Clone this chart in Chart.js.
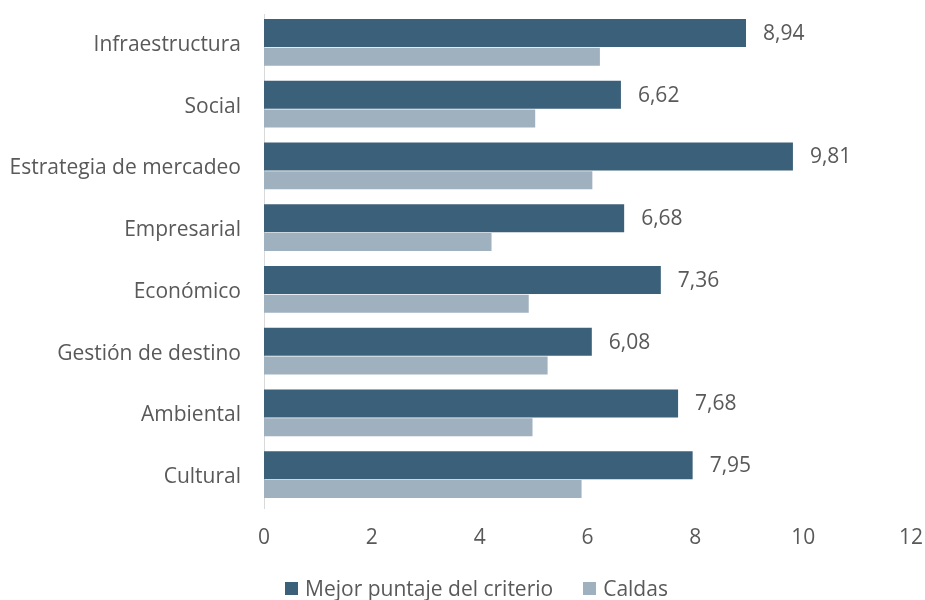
<!DOCTYPE html>
<html lang="es">
<head>
<meta charset="utf-8">
<title>Puntaje por criterio</title>
<script src="https://cdn.jsdelivr.net/npm/chart.js@4/dist/chart.umd.min.js"></script>
<style>
  html, body { margin: 0; padding: 0; background: #fff; }
  #wrap { position: relative; width: 925px; height: 600px; }
  #legend {
    position: absolute; left: 28px; right: 0; top: 575px;
    display: flex; justify-content: center; gap: 30px;
    font-family: "Open Sans", sans-serif; font-size: 21px; color: #595959;
    line-height: 26px;
  }
  #legend span.item { display: flex; align-items: center; }
  #legend span.box { width: 13px; height: 13px; margin-right: 7px; display: inline-block; }
</style>
</head>
<body>
<div id="wrap">
  <canvas id="myChart" width="925" height="600"></canvas>
  <div id="legend"></div>
</div>
<script>
const categorias = [
  "Infraestructura",
  "Social",
  "Estrategia de mercadeo",
  "Empresarial",
  "Económico",
  "Gestión de destino",
  "Ambiental",
  "Cultural",
];
const mejorPuntaje = [8.94, 6.62, 9.81, 6.68, 7.36, 6.08, 7.68, 7.95];
const caldas = [6.23, 5.03, 6.09, 4.22, 4.91, 5.26, 4.98, 5.89];
const ticksX = [0, 2, 4, 6, 8, 10, 12];

const colorOscuro = "#3b6079";
const colorClaro = "#9fb1bf";
const textColor = "#595959";
const fuente = "'Open Sans', sans-serif";

const formatear = (v) => v.toFixed(2).replace(".", ",");

// etiquetas solo para la serie oscura
const etiquetas = {
  id: "etiquetas",
  afterDatasetsDraw: (chart) => {
    const ctx = chart.ctx;
    const meta = chart.getDatasetMeta(0);
    ctx.save();
    ctx.font = `21px ${fuente}`;
    ctx.fillStyle = textColor;
    ctx.textAlign = "left";
    ctx.textBaseline = "middle";
    meta.data.forEach((bar, i) => {
      ctx.fillText(formatear(mejorPuntaje[i]), bar.x + 17, bar.y + 1);
    });
    ctx.restore();
  },
};

const data = {
  labels: categorias,
  datasets: [
    {
      label: "Mejor puntaje del criterio",
      data: mejorPuntaje,
      backgroundColor: colorOscuro,
      categoryPercentage: 0.777,
      barPercentage: 1.167,
    },
    {
      label: "Caldas",
      data: caldas,
      backgroundColor: colorClaro,
      categoryPercentage: 0.777,
      barPercentage: 0.75,
    },
  ],
};

const config = {
  type: "bar",
  data: data,
  options: {
    indexAxis: "y",
    responsive: false,
    animation: false,
    layout: { padding: { top: 14, right: 14, bottom: 52, left: 0 } },
    plugins: {
      legend: { display: false },
      tooltip: { enabled: false },
    },
    scales: {
      x: {
        min: 0,
        max: 12,
        afterBuildTicks: (scale) => {
          scale.ticks = ticksX.map((v) => ({ value: v }));
        },
        afterFit: (scale) => {
          scale.height = 40;
          scale.paddingLeft = 0;
          scale.paddingRight = 0;
        },
        grid: { display: false, drawTicks: false },
        border: { display: false },
        ticks: {
          color: textColor,
          padding: 17,
          font: { family: fuente, size: 21 },
        },
      },
      y: {
        afterFit: (scale) => {
          scale.width = 264;
          scale.paddingTop = 0;
          scale.paddingBottom = 0;
        },
        grid: { display: false, drawTicks: false },
        border: { display: true, color: "#d9d9d9", width: 1 },
        ticks: {
          color: textColor,
          padding: 23,
          font: { family: fuente, size: 21 },
        },
      },
    },
  },
  plugins: [etiquetas],
};

const myChart = new Chart(document.getElementById("myChart"), config);

// leyenda abajo
const legend = document.getElementById("legend");
myChart.data.datasets.forEach((ds) => {
  const item = document.createElement("span");
  item.className = "item";
  item.innerHTML = `<span class="box" style="background:${ds.backgroundColor}"></span>${ds.label}`;
  legend.appendChild(item);
});
</script>
</body>
</html>
